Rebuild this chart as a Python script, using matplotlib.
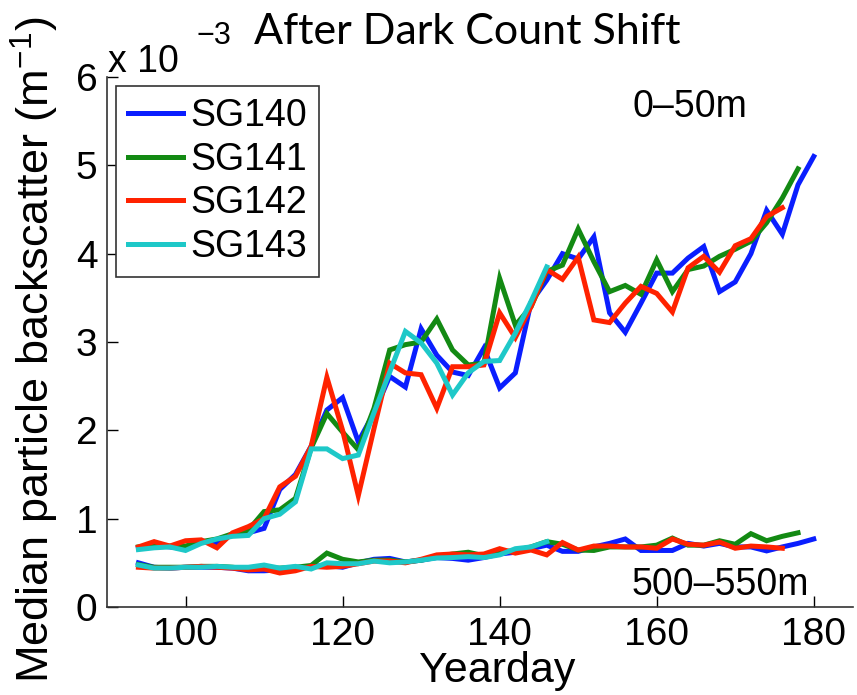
import numpy as np
import matplotlib
matplotlib.use('Agg')
import matplotlib.pyplot as plt

plt.rcParams['font.family'] = ['Liberation Sans', 'DejaVu Sans']
plt.rcParams['mathtext.fontset'] = 'custom'
plt.rcParams['mathtext.rm'] = 'Liberation Sans'
plt.rcParams['mathtext.it'] = 'Liberation Sans:italic'

# yearday sampling for each glider
days_140 = np.arange(94, 181, 2)
days_141 = np.arange(94, 179, 2)
days_142 = np.arange(94, 177, 2)
days_143 = np.arange(94, 147, 2)

# 0-50m median backscatter (x 1e-3 m^-1)
sg140_top = [0.67, 0.70, 0.68, 0.66, 0.74, 0.73, 0.82, 0.84, 0.89, 1.33, 1.50, 1.82, 2.23, 2.37, 1.87,
             2.20, 2.61, 2.49, 3.15, 2.85, 2.66, 2.62, 2.93, 2.48, 2.65, 3.45, 3.70, 4.00, 3.94, 4.19,
             3.33, 3.11, 3.44, 3.78, 3.78, 3.95, 4.08, 3.57, 3.68, 4.00, 4.49, 4.22, 4.78, 5.10]
sg141_top = [0.68, 0.70, 0.69, 0.69, 0.74, 0.77, 0.83, 0.87, 1.08, 1.10, 1.23, 1.80, 2.19, 1.98, 1.78,
             2.25, 2.91, 2.97, 3.00, 3.26, 2.91, 2.74, 2.76, 3.72, 3.19, 3.40, 3.80, 3.87, 4.28, 3.91,
             3.57, 3.64, 3.54, 3.93, 3.57, 3.82, 3.86, 3.97, 4.05, 4.14, 4.35, 4.63, 4.96]
sg142_top = [0.68, 0.74, 0.69, 0.75, 0.76, 0.67, 0.84, 0.91, 1.00, 1.36, 1.48, 1.82, 2.60, 2.00, 1.26,
             2.02, 2.76, 2.65, 2.63, 2.25, 2.72, 2.72, 2.74, 3.33, 3.05, 3.40, 3.82, 3.71, 3.96, 3.25,
             3.22, 3.44, 3.63, 3.55, 3.34, 3.84, 3.97, 3.79, 4.09, 4.17, 4.42, 4.52]
sg143_top = [0.65, 0.67, 0.68, 0.64, 0.72, 0.77, 0.80, 0.81, 1.00, 1.05, 1.19, 1.79, 1.79, 1.68, 1.72,
             2.20, 2.66, 3.12, 2.99, 2.76, 2.40, 2.65, 2.78, 2.79, 3.10, 3.46, 3.85]

# 500-550m median backscatter
sg140_deep = [0.50, 0.45, 0.44, 0.45, 0.45, 0.45, 0.44, 0.41, 0.41, 0.42, 0.44, 0.46, 0.47, 0.45, 0.50,
              0.54, 0.55, 0.51, 0.53, 0.56, 0.55, 0.53, 0.56, 0.60, 0.62, 0.66, 0.70, 0.63, 0.63, 0.68,
              0.72, 0.77, 0.64, 0.64, 0.64, 0.72, 0.69, 0.72, 0.68, 0.68, 0.635, 0.68, 0.72, 0.77]
sg141_deep = [0.48, 0.45, 0.45, 0.45, 0.46, 0.46, 0.45, 0.43, 0.44, 0.44, 0.45, 0.47, 0.61, 0.54, 0.51,
              0.53, 0.53, 0.51, 0.53, 0.57, 0.60, 0.62, 0.58, 0.62, 0.64, 0.68, 0.74, 0.71, 0.645, 0.64,
              0.68, 0.68, 0.68, 0.70, 0.78, 0.70, 0.70, 0.75, 0.71, 0.83, 0.75, 0.80, 0.84]
sg142_deep = [0.45, 0.44, 0.44, 0.45, 0.46, 0.45, 0.44, 0.42, 0.43, 0.385, 0.41, 0.46, 0.45, 0.46, 0.49,
              0.52, 0.52, 0.50, 0.54, 0.59, 0.60, 0.59, 0.60, 0.66, 0.61, 0.645, 0.59, 0.73, 0.645, 0.69,
              0.69, 0.68, 0.68, 0.665, 0.77, 0.71, 0.70, 0.735, 0.665, 0.69, 0.68, 0.665]
sg143_deep = [0.475, 0.44, 0.44, 0.45, 0.45, 0.46, 0.45, 0.45, 0.475, 0.44, 0.46, 0.43, 0.50, 0.49, 0.49,
              0.52, 0.50, 0.51, 0.53, 0.555, 0.56, 0.57, 0.56, 0.59, 0.66, 0.68, 0.74]

names = ['SG140', 'SG141', 'SG142', 'SG143']
colors = ['#0a1eff', '#138a13', '#ff2200', '#1ec8c8']
days = [days_140, days_141, days_142, days_143]
tops = [sg140_top, sg141_top, sg142_top, sg143_top]
deeps = [sg140_deep, sg141_deep, sg142_deep, sg143_deep]

W, H = 857, 695
fig = plt.figure(figsize=(W / 100, H / 100), dpi=100)
ax = fig.add_axes([107 / W, 1 - 607 / H, 746 / W, 530 / H])

lw = 3.6
for d, y, c, n in zip(days, tops, colors, names):
    ax.plot(d, np.array(y), color=c, lw=lw, label=n, solid_joinstyle='miter')
for d, y, c in zip(days, deeps, colors):
    ax.plot(d, np.array(y), color=c, lw=lw, solid_joinstyle='miter')

ax.set_xlim(90, 185)
ax.set_ylim(0, 6)
ax.set_xticks([100, 120, 140, 160, 180])
ax.set_yticks([0, 1, 2, 3, 4, 5, 6])
ax.tick_params(direction='in', length=8, width=1, labelsize=28, pad=7, colors='black')
for s in ['top', 'right']:
    ax.spines[s].set_visible(False)
for s in ['left', 'bottom']:
    ax.spines[s].set_color('#333333')
    ax.spines[s].set_linewidth(1.2)

ax.set_xlabel('Yearday', fontsize=31)
ax.xaxis.set_label_coords(0.523, -0.083)
ax.set_ylabel('Median particle backscatter (m$^{-1}$)', fontsize=32.5)
ax.yaxis.set_label_coords(-0.062, 0.485)

leg = ax.legend(loc='upper left', bbox_to_anchor=(0.012, 0.983), borderaxespad=0, fontsize=27,
                handlelength=1.45, handletextpad=0.2, labelspacing=0.2, borderpad=0.33,
                fancybox=False, framealpha=1, edgecolor='#333333')
leg.get_frame().set_linewidth(1.2)

ax.text(0.781, 0.925, '0\u201350m', transform=ax.transAxes, ha='center', va='baseline', fontsize=27)
ax.text(0.822, 0.023, '500\u2013550m', transform=ax.transAxes, ha='center', va='baseline', fontsize=27)

# matlab style exponent label
fig.text(108 / W, 1 - 72 / H, 'x 10', fontsize=27, ha='left', va='baseline')
fig.text(197 / W, 1 - 44 / H, '\u22123', fontsize=22, ha='left', va='baseline')

fig.text(467 / W, 1 - 44 / H, 'After Dark Count Shift', fontsize=31, family=['Lato', 'DejaVu Sans'],
         ha='center', va='baseline')

fig.savefig('out.png', dpi=100)
